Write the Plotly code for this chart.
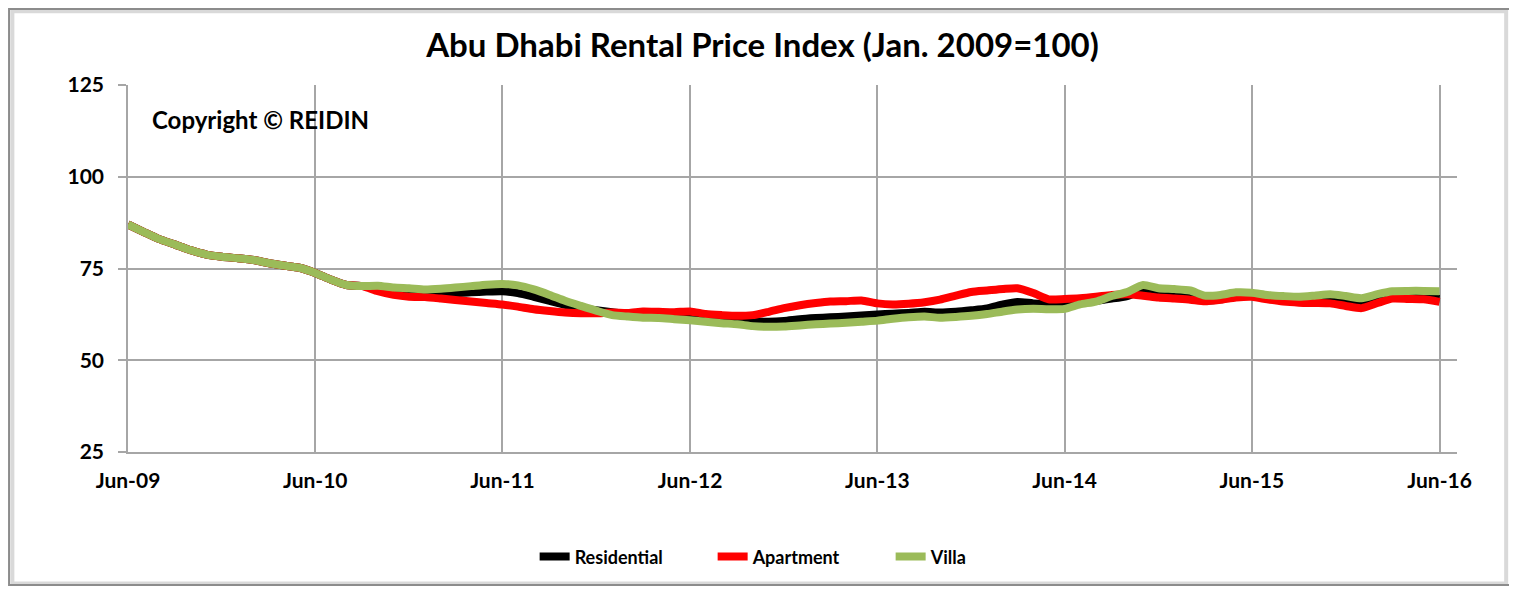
import pandas as pd
import plotly.graph_objects as go

months = pd.date_range("2009-06-01", "2016-06-01", freq="MS").strftime("%Y-%m-%d").tolist()

# Jun-09 .. Sep-10 all three series nearly identical
common_start = [87, 85, 83, 81.5, 80, 78.8, 78.2, 77.8, 77.3, 76.5, 75.8, 75.2, 73.8, 72, 70.5, 70.2]

residential_tail = [69.8, 69.1, 68.7, 68.5, 68.3, 68.3, 68.5, 68.7, 68.8, 68.3, 67.3, 66.2, 65.1, 64.2,
                    63.6, 63.1, 62.6, 62.4, 62.2, 62.0, 61.7, 61.3, 61.0, 60.8, 60.6, 60.5, 60.7, 61.2,
                    61.5, 61.7, 61.9, 62.2, 62.5, 62.7, 62.9, 63.2, 63.0, 63.2, 63.6, 64.1, 65.2, 65.9,
                    65.5, 65.3, 65.5, 65.9, 66.2, 66.8, 67.5, 68.9, 68.3, 67.9, 67.6, 66.3, 66.6, 67.6,
                    67.8, 67.1, 66.6, 66.3, 66.4, 66.6, 66.0, 65.3, 66.5, 67.3, 67.3, 67.2, 66.7]

apartment_tail = [68.8, 67.8, 67.3, 67.2, 66.8, 66.4, 66.0, 65.6, 65.2, 64.6, 63.9, 63.4, 63.0, 62.8,
                  62.8, 63.0, 62.9, 63.3, 63.2, 63.1, 63.3, 62.6, 62.3, 62.1, 62.3, 63.2, 64.2, 65.0,
                  65.6, 66.0, 66.1, 66.3, 65.5, 65.2, 65.4, 65.8, 66.5, 67.6, 68.6, 69.0, 69.4, 69.6,
                  68.3, 66.6, 66.7, 66.9, 67.3, 67.8, 68.0, 67.6, 67.1, 66.8, 66.5, 66.1, 66.5, 67.1,
                  67.3, 66.6, 66.0, 65.7, 65.6, 65.5, 64.8, 64.2, 65.6, 66.8, 66.7, 66.6, 65.9]

villa_tail = [70.3, 69.8, 69.6, 69.3, 69.5, 69.8, 70.2, 70.6, 70.8, 70.4, 69.3, 67.8, 66.2, 64.8,
              63.5, 62.3, 61.9, 61.6, 61.5, 61.2, 60.9, 60.5, 60.1, 59.8, 59.3, 59.1, 59.2, 59.5,
              59.8, 60.0, 60.2, 60.5, 60.8, 61.3, 61.7, 61.9, 61.6, 61.8, 62.1, 62.6, 63.3, 63.8,
              64.0, 63.9, 64.0, 65.2, 66.0, 67.5, 68.6, 70.5, 69.6, 69.4, 69.0, 67.6, 67.8, 68.5,
              68.4, 67.8, 67.5, 67.3, 67.6, 68.0, 67.5, 66.9, 68.0, 68.8, 68.9, 68.9, 68.8]

residential = common_start + residential_tail
apartment = common_start + apartment_tail
villa = common_start + villa_tail

series_names = ["Residential", "Apartment", "Villa"]
series_values = [residential, apartment, villa]
series_colors = ["#000000", "#FF0000", "#9BBB59"]

x_ticks = ["2009-06-01", "2010-06-01", "2011-06-01", "2012-06-01", "2013-06-01",
           "2014-06-01", "2015-06-01", "2016-06-01"]
x_tick_labels = ["Jun-09", "Jun-10", "Jun-11", "Jun-12", "Jun-13", "Jun-14", "Jun-15", "Jun-16"]
y_ticks = [25, 50, 75, 100, 125]

FONT = "Lato"

fig = go.Figure()
for name, vals, col in zip(series_names, series_values, series_colors):
    fig.add_trace(go.Scatter(x=months, y=vals, name=name, mode="lines",
                             line=dict(color=col, width=8, shape="spline", smoothing=0.6)))

grid = "#A6A6A6"
fig.update_layout(
    width=1509, height=582,
    margin=dict(l=120, r=60, t=77, b=138),
    paper_bgcolor="white", plot_bgcolor="white",
    title=dict(text="Abu Dhabi Rental Price Index (Jan. 2009=100)", x=0.5, xanchor="center",
               xref="container", y=0.936, yanchor="middle",
               font=dict(family=FONT, size=33, color="#000000", weight="bold")),
    showlegend=True,
    legend=dict(orientation="h", x=0.349, xanchor="left", xref="container",
                y=0.057, yanchor="middle", yref="container",
                font=dict(family=FONT, size=18, color="#000000", weight="bold"),
                entrywidth=133, entrywidthmode="pixels", tracegroupgap=0),
    xaxis=dict(type="date", range=["2009-06-01", "2016-07-05"], tickvals=x_ticks, ticktext=x_tick_labels,
               showgrid=True, gridcolor=grid, gridwidth=1.5, showline=True, linecolor=grid, linewidth=1.5,
               ticks="", zeroline=False,
               tickfont=dict(family=FONT, size=21, color="#000000", weight="bold"), ticklabelstandoff=9),
    yaxis=dict(range=[25, 125], tickvals=y_ticks, showgrid=True, gridcolor=grid, gridwidth=1.5,
               showline=True, linecolor=grid, linewidth=1.5, ticks="outside", ticklen=8, tickcolor=grid,
               tickwidth=1.5, zeroline=False,
               tickfont=dict(family=FONT, size=21, color="#000000", weight="bold"), ticklabelstandoff=10),
)

fig.add_annotation(text="Copyright © REIDIN", xref="paper", yref="paper", x=0.0166, y=0.907,
                   xanchor="left", yanchor="middle", showarrow=False,
                   font=dict(family=FONT, size=24, color="#000000", weight="bold"))

# outer chart frame with shadow
fig.add_shape(type="rect", xref="paper", yref="paper", x0=-0.0870, x1=1.0370, y0=-0.3580, y1=1.2010,
              line=dict(color="#D9D9D9", width=4), layer="below")
fig.add_shape(type="rect", xref="paper", yref="paper", x0=-0.0895, x1=1.0399, y0=-0.3624, y1=1.2071,
              line=dict(color="#8C8C8C", width=2), layer="below")

fig.write_html("out.html")
